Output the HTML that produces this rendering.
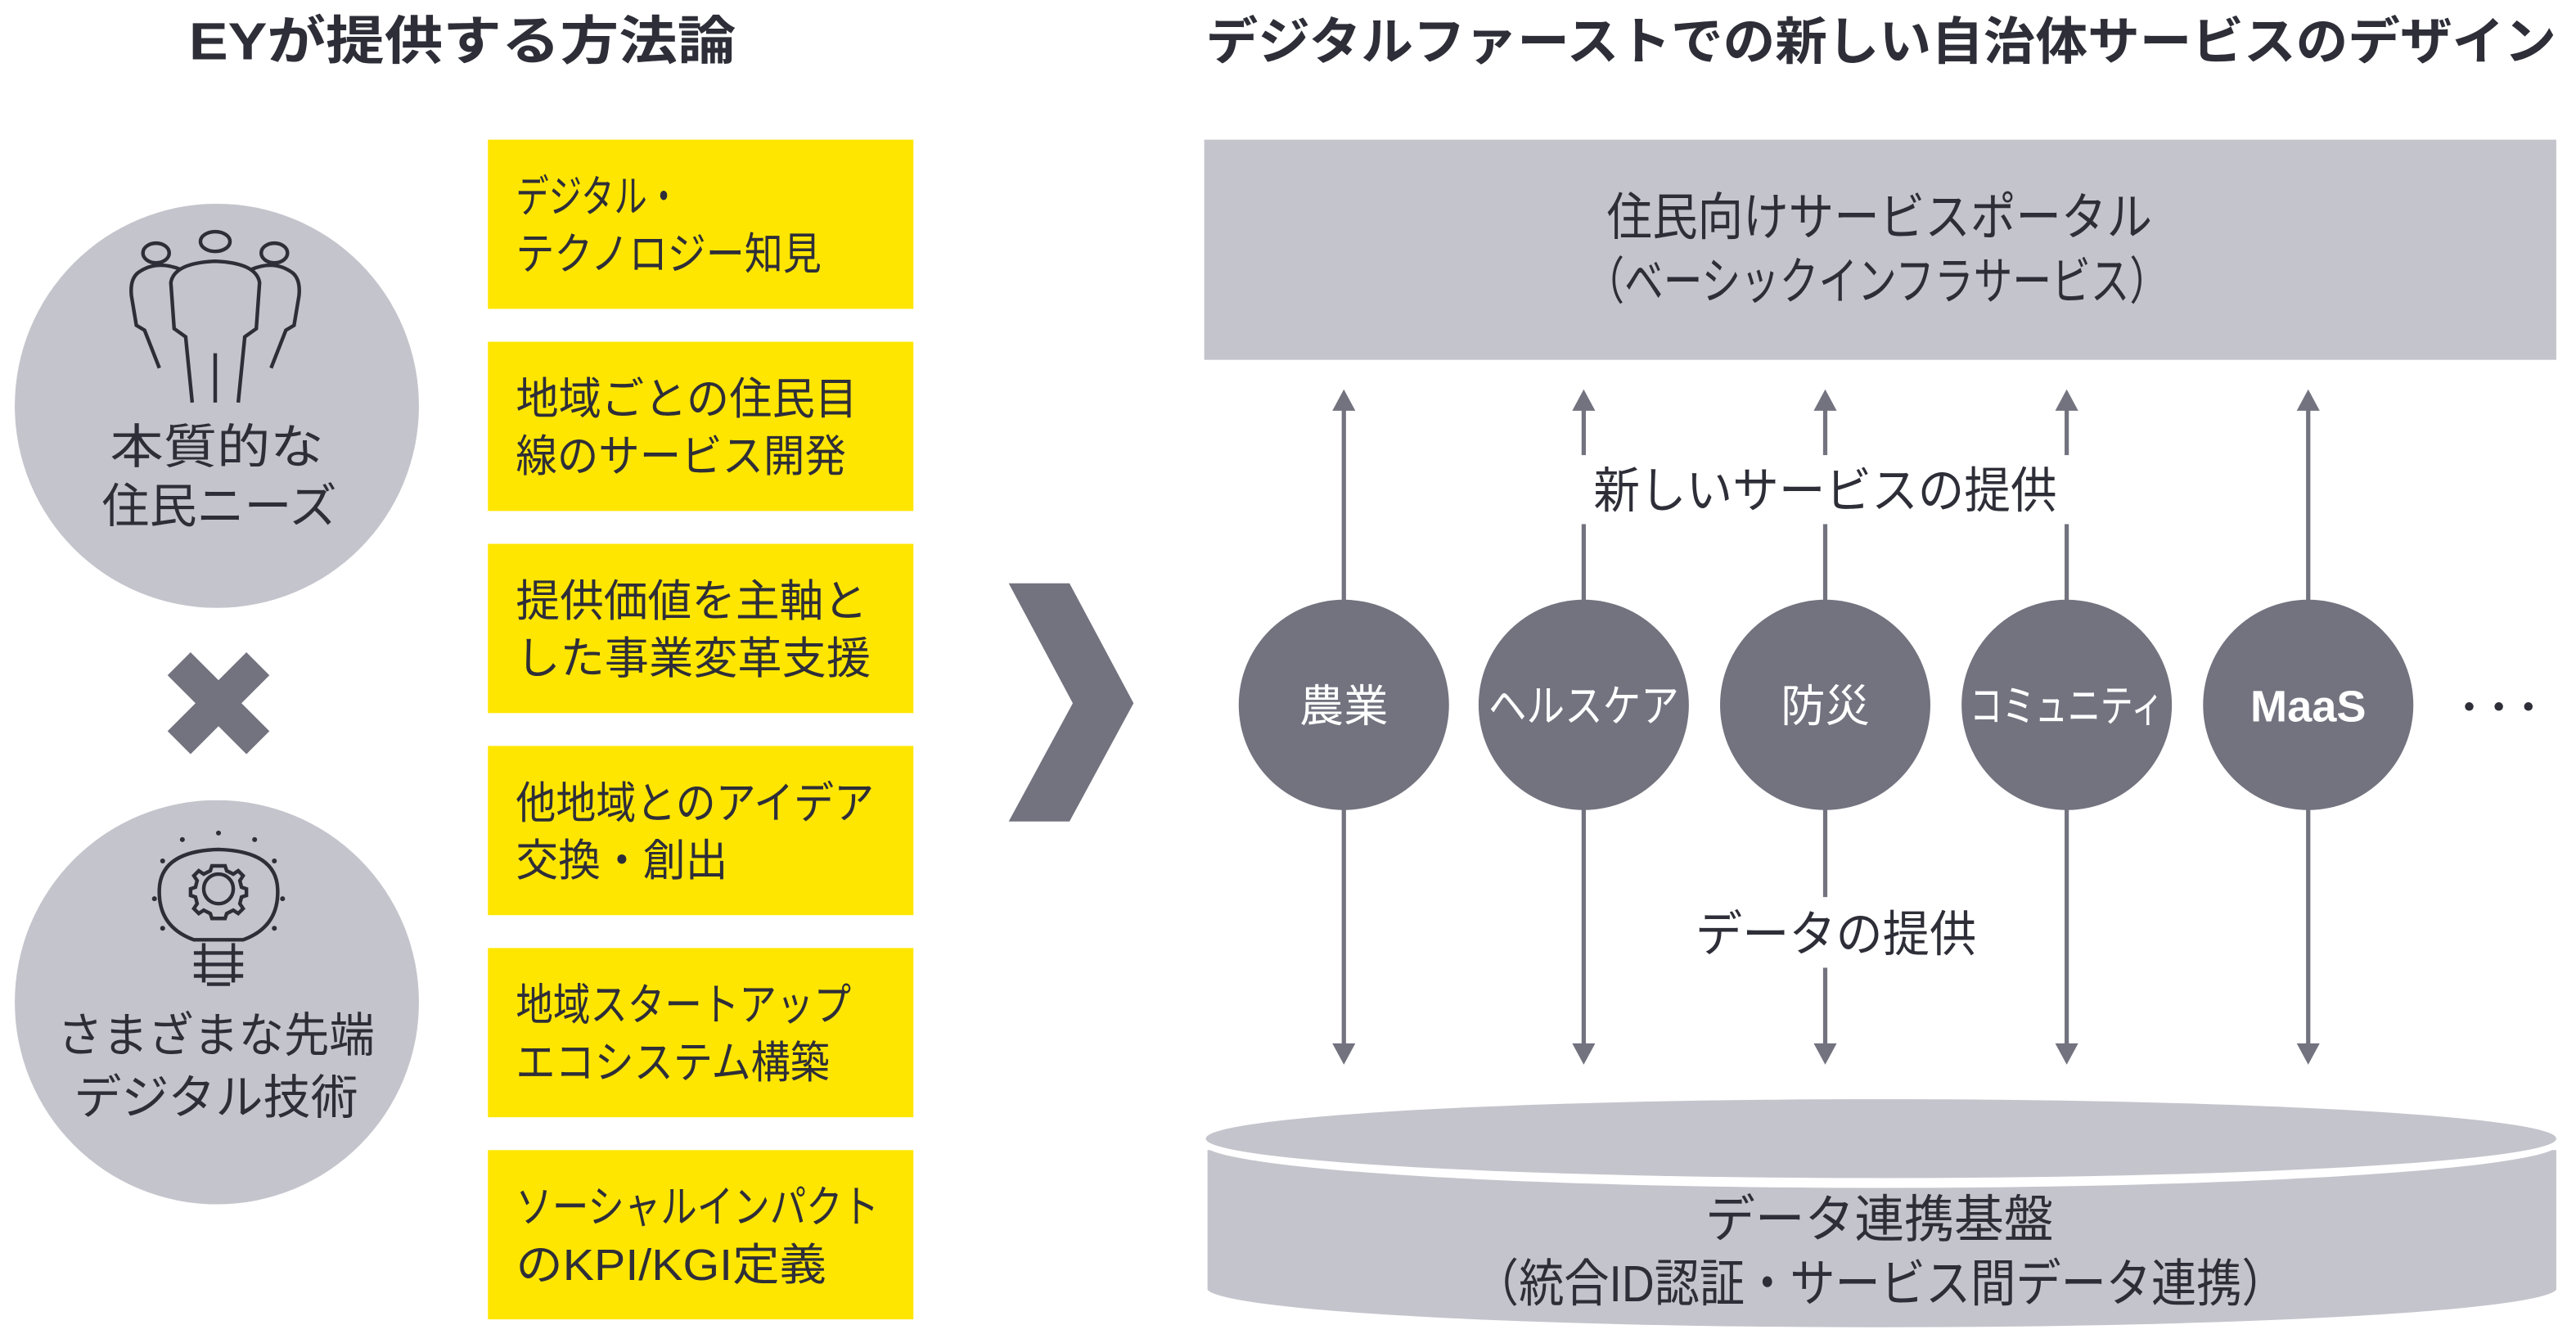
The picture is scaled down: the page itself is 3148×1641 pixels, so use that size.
<!DOCTYPE html>
<html><head><meta charset="utf-8"><style>
html,body{margin:0;padding:0;background:#fff;}
svg{display:block;}
text{font-family:"Liberation Sans","Noto Sans CJK JP",sans-serif;}
</style></head><body>
<svg width="3148" height="1641" viewBox="0 0 1568 817.4" preserveAspectRatio="none" xmlns="http://www.w3.org/2000/svg">
<rect width="1568" height="818" fill="#fff"/>
<text x="115" y="36" font-size="32" font-weight="bold" fill="#2e2e38" textLength="333" lengthAdjust="spacingAndGlyphs">EYが提供する方法論</text>
<text x="1145" y="36" font-size="31" font-weight="bold" fill="#2e2e38" text-anchor="middle" textLength="822" lengthAdjust="spacingAndGlyphs">デジタルファーストでの新しい自治体サービスのデザイン</text>

<circle cx="132" cy="247" r="123" fill="#c4c4cc"/>
<circle cx="132" cy="610" r="123" fill="#c4c4cc"/>
<g fill="none" stroke="#2e2e38" stroke-width="2.2">
<ellipse cx="95" cy="154" rx="8" ry="6"/>
<ellipse cx="131" cy="147" rx="9" ry="6"/>
<ellipse cx="167" cy="154" rx="8" ry="6"/>
<path d="M110 164 Q95 158 84 166 Q79 170 80 180 L83 198 L88 201 L97 224"/>
<path d="M153 164 Q167 158 178 166 Q183 170 182 180 L179 198 L174 201 L165 224"/>
<path d="M117 245 L113 205 L106 200 L104 172 Q106 160 131 159 Q156 160 158 172 L156 200 L149 205 L145 245"/>
<path d="M131 215 L131 245"/>
</g>
<text x="67" y="282" font-size="29" fill="#2e2e38" textLength="130" lengthAdjust="spacingAndGlyphs">本質的な</text>
<text x="62" y="318" font-size="29" fill="#2e2e38" textLength="143" lengthAdjust="spacingAndGlyphs">住民ニーズ</text>

<polygon points="102,411 116,397 133,414 150,397 164,411 147,428 164,445 150,459 133,442 116,459 102,445 119,428" fill="#72737f"/>

<g fill="none" stroke="#2e2e38" stroke-width="2.2">
<path d="M118 572 Q96 564 97 541 Q98 518 133 517 Q168 518 169 541 Q170 564 148 572 Z"/>
<circle cx="133" cy="541" r="9"/>
<path d="M133 527 l4 0 l1 3 l4 2 l3 -2 l3 3 l-2 3 l1 4 l3 1 l0 4 l-3 1 l-1 4 l2 3 l-3 3 l-3 -2 l-4 2 l-1 3 l-8 0 l-1 -3 l-4 -2 l-3 2 l-3 -3 l2 -3 l-1 -4 l-3 -1 l0 -4 l3 -1 l1 -4 l-2 -3 l3 -3 l3 2 l4 -2 l1 -3 Z"/>
<path d="M118 580 L148 580 M118 587 L148 587 M118 594 L148 594 M124 574 L124 598 M142 574 L142 598 M126 599 L140 599"/>
</g>
<g fill="#2e2e38"><circle cx="133" cy="507" r="1.5"/><circle cx="111" cy="511" r="1.5"/><circle cx="155" cy="511" r="1.5"/><circle cx="99" cy="524" r="1.5"/><circle cx="167" cy="524" r="1.5"/><circle cx="94" cy="547" r="1.5"/><circle cx="172" cy="547" r="1.5"/><circle cx="99" cy="565" r="1.5"/><circle cx="167" cy="565" r="1.5"/></g>
<text x="35" y="640" font-size="29" fill="#2e2e38" textLength="193" lengthAdjust="spacingAndGlyphs">さまざまな先端</text>
<text x="45" y="678" font-size="29" fill="#2e2e38" textLength="173" lengthAdjust="spacingAndGlyphs">デジタル技術</text>

<g fill="#ffe600">
<rect x="297" y="85" width="259" height="103"/>
<rect x="297" y="208" width="259" height="103"/>
<rect x="297" y="331" width="259" height="103"/>
<rect x="297" y="454" width="259" height="103"/>
<rect x="297" y="577" width="259" height="103"/>
<rect x="297" y="700" width="259" height="103"/>
</g>
<g font-size="27" fill="#2e2e38" lengthAdjust="spacingAndGlyphs">
<text x="314" y="129" textLength="100" lengthAdjust="spacingAndGlyphs">デジタル・</text><text x="314" y="164" textLength="186" lengthAdjust="spacingAndGlyphs">テクノロジー知見</text>
<text x="314" y="252" textLength="208" lengthAdjust="spacingAndGlyphs">地域ごとの住民目</text><text x="314" y="287" textLength="201" lengthAdjust="spacingAndGlyphs">線のサービス開発</text>
<text x="314" y="375" textLength="214" lengthAdjust="spacingAndGlyphs">提供価値を主軸と</text><text x="314" y="410" textLength="216" lengthAdjust="spacingAndGlyphs">した事業変革支援</text>
<text x="314" y="498" textLength="218" lengthAdjust="spacingAndGlyphs">他地域とのアイデア</text><text x="314" y="533" textLength="129" lengthAdjust="spacingAndGlyphs">交換・創出</text>
<text x="314" y="621" textLength="204" lengthAdjust="spacingAndGlyphs">地域スタートアップ</text><text x="314" y="656" textLength="191" lengthAdjust="spacingAndGlyphs">エコシステム構築</text>
<text x="314" y="744" textLength="221" lengthAdjust="spacingAndGlyphs">ソーシャルインパクト</text><text x="314" y="779" textLength="189" lengthAdjust="spacingAndGlyphs">のKPI/KGI定義</text>
</g>

<polygon points="614,355 651,355 690,428 651,500 614,500 653,428" fill="#72737f"/>

<rect x="733" y="85" width="823" height="134" fill="#c4c4cc"/>
<text x="978" y="143" font-size="31" fill="#2e2e38" textLength="332" lengthAdjust="spacingAndGlyphs">住民向けサービスポータル</text>
<text x="965" y="182" font-size="31" fill="#2e2e38" textLength="355" lengthAdjust="spacingAndGlyphs">（ベーシックインフラサービス）</text>

<g stroke="#72737f" stroke-width="2.6">
<line x1="818" y1="248" x2="818" y2="636"/>
<line x1="964" y1="248" x2="964" y2="636"/>
<line x1="1111" y1="248" x2="1111" y2="636"/>
<line x1="1258" y1="248" x2="1258" y2="636"/>
<line x1="1405" y1="248" x2="1405" y2="636"/>
</g>
<g fill="#72737f">
<polygon points="818,237 811,250 825,250"/><polygon points="964,237 957,250 971,250"/><polygon points="1111,237 1104,250 1118,250"/><polygon points="1258,237 1251,250 1265,250"/><polygon points="1405,237 1398,250 1412,250"/>
<polygon points="818,648 811,635 825,635"/><polygon points="964,648 957,635 971,635"/><polygon points="1111,648 1104,635 1118,635"/><polygon points="1258,648 1251,635 1265,635"/><polygon points="1405,648 1398,635 1412,635"/>
</g>
<rect x="955" y="277" width="312" height="42" fill="#fff"/>
<text x="970" y="309" font-size="30" fill="#2e2e38" textLength="282" lengthAdjust="spacingAndGlyphs">新しいサービスの提供</text>
<rect x="1026" y="546" width="184" height="43" fill="#fff"/>
<text x="1032" y="579" font-size="30" fill="#2e2e38" textLength="171" lengthAdjust="spacingAndGlyphs">データの提供</text>

<g fill="#72737f">
<circle cx="818" cy="429" r="64"/><circle cx="964" cy="429" r="64"/><circle cx="1111" cy="429" r="64"/><circle cx="1258" cy="429" r="64"/><circle cx="1405" cy="429" r="64"/>
</g>
<g font-size="27" fill="#fff" text-anchor="middle">
<text x="818" y="439">農業</text>
<text x="964" y="439" textLength="116" lengthAdjust="spacingAndGlyphs">ヘルスケア</text>
<text x="1111" y="439">防災</text>
<text x="1258" y="439" textLength="118" lengthAdjust="spacingAndGlyphs">コミュニティ</text>
<text x="1405" y="439" font-weight="bold">MaaS</text>
</g>
<g fill="#2e2e38"><circle cx="1503" cy="430" r="2.6"/><circle cx="1521" cy="430" r="2.6"/><circle cx="1539" cy="430" r="2.6"/></g>

<path d="M735 700 L735 785 A411 24 0 0 0 1556 785 L1556 700 Z" fill="#c4c4cc"/>
<ellipse cx="1145" cy="696" rx="413" ry="27" fill="#fff"/>
<ellipse cx="1145" cy="693" rx="411" ry="24" fill="#c4c4cc"/>
<text x="1038" y="753" font-size="31" fill="#2e2e38" textLength="212" lengthAdjust="spacingAndGlyphs">データ連携基盤</text>
<text x="897" y="792" font-size="31" fill="#2e2e38" textLength="495" lengthAdjust="spacingAndGlyphs">（統合ID認証・サービス間データ連携）</text>
</svg>
</body></html>
